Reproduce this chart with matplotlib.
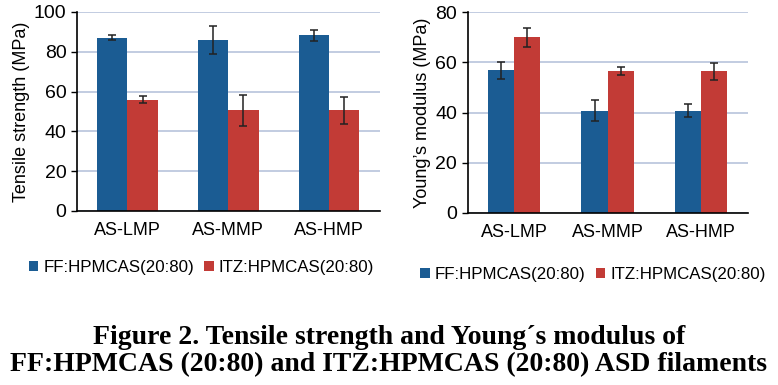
import numpy as np
import matplotlib
matplotlib.use("Agg")
import matplotlib.pyplot as plt

plt.rcParams['font.family'] = ['Liberation Sans', 'DejaVu Sans']

groups = ["AS-LMP", "AS-MMP", "AS-HMP"]
series = ["FF:HPMCAS(20:80)", "ITZ:HPMCAS(20:80)"]

# tensile strength (MPa)
ts_ff = [87.0, 85.8, 88.3]
ts_ff_err = [1.2, 7.0, 2.8]
ts_itz = [56.0, 50.5, 50.5]
ts_itz_err = [1.7, 7.7, 6.9]

# Young's modulus (MPa)
ym_ff = [56.8, 40.8, 40.8]
ym_ff_err = [3.2, 4.1, 2.5]
ym_itz = [70.0, 56.5, 56.4]
ym_itz_err = [3.8, 1.6, 3.5]

blue = "#1b5c93"
red = "#c23b36"
grid_col = "#b8c4dc"

fig = plt.figure(figsize=(7.78, 3.85), dpi=100)


def draw(ax, ff, ff_err, itz, itz_err, ymax, ylabel, width, leg_xy):
    x = np.arange(len(groups))
    ax.bar(x - width / 2, ff, width, color=blue, label=series[0], zorder=2)
    ax.bar(x + width / 2, itz, width, color=red, label=series[1], zorder=2)
    ax.errorbar(x - width / 2, ff, yerr=ff_err, fmt="none", ecolor="#222222",
                elinewidth=1.1, capsize=3, capthick=1.1, zorder=3)
    ax.errorbar(x + width / 2, itz, yerr=itz_err, fmt="none", ecolor="#222222",
                elinewidth=1.1, capsize=3, capthick=1.1, zorder=3)
    ax.set_xlim(-0.5, len(groups) - 0.5)
    ax.set_ylim(0, ymax)
    ax.set_yticks(np.arange(0, ymax + 1, 20))
    ax.set_xticks(x)
    ax.set_xticklabels(groups, fontsize=13)
    ax.tick_params(axis="y", labelsize=14, length=4, direction="out", width=1)
    ax.tick_params(axis="x", length=0, pad=8)
    ax.set_ylabel(ylabel, fontsize=13, labelpad=3)
    ax.yaxis.grid(True, color=grid_col, linewidth=1.2, zorder=0)
    ax.set_axisbelow(True)
    for s in ["top", "right"]:
        ax.spines[s].set_visible(False)
    ax.spines["left"].set_linewidth(1.2)
    ax.spines["bottom"].set_linewidth(1.2)
    ax.legend(loc="upper center", bbox_to_anchor=leg_xy,
              bbox_transform=fig.transFigure, ncol=2,
              frameon=False, fontsize=12.2, handlelength=0.55, handleheight=0.55,
              handletextpad=0.3, columnspacing=0.6)


ax1 = fig.add_axes([0.099, 0.452, 0.389, 0.517])
draw(ax1, ts_ff, ts_ff_err, ts_itz, ts_itz_err, 100,
     "Tensile strength (MPa)", 0.3, (0.259, 0.365))

ax2 = fig.add_axes([0.601, 0.447, 0.360, 0.521])
draw(ax2, ym_ff, ym_ff_err, ym_itz, ym_itz_err, 80,
     "Young\u2019s modulus (MPa)", 0.28, (0.762, 0.347))

caption = ("Figure 2. Tensile strength and Young\u00b4s modulus of\n"
           "FF:HPMCAS (20:80) and ITZ:HPMCAS (20:80) ASD filaments")
fig.text(0.5, 0.02, caption, ha="center", va="bottom", fontsize=20,
         fontweight="bold", family=["Liberation Serif", "DejaVu Serif"],
         linespacing=1.1)

fig.savefig("out.png", dpi=100)
